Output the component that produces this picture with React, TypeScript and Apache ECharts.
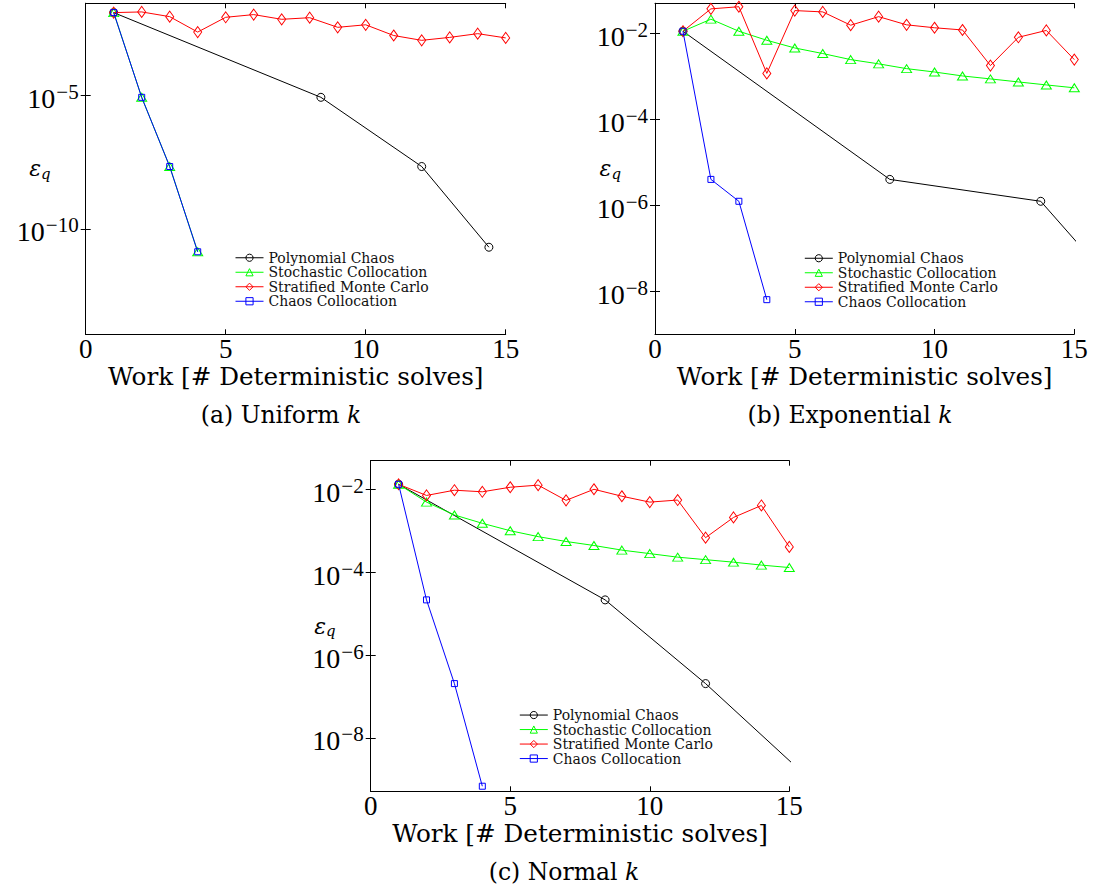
import React, { useEffect, useRef } from "react";
import * as echarts from "echarts";

// ---------- data ----------
const SERIES_NAMES = [
  "Polynomial Chaos",
  "Stochastic Collocation",
  "Stratified Monte Carlo",
  "Chaos Collocation",
];
const WORK_1_15 = [1, 2, 3, 4, 5, 6, 7, 8, 9, 10, 11, 12, 13, 14, 15];
const WORK_1_4 = [1, 2, 3, 4];
const X_TICKS = [0, 5, 10, 15];
const Y_TICKS_A = [-5, -10];
const Y_TICKS_BC = [-2, -4, -6, -8];

// (a) Uniform k
const uniformPCWork = [1, 8.4, 12, 14.4];
const uniformPCErr = [1.32e-2, 8.7e-6, 2.19e-8, 2.04e-11];
const uniformSCErr = [1.32e-2, 8.7e-6, 2.19e-8, 1.38e-11];
const uniformSMCErr = [
  1.32e-2, 1.4e-2, 9.3e-3, 2.45e-3, 8.8e-3, 1.11e-2, 7.4e-3, 8.5e-3, 3.7e-3,
  4.6e-3, 1.82e-3, 1.2e-3, 1.55e-3, 2.14e-3, 1.48e-3,
];
const uniformCCErr = [1.32e-2, 8.7e-6, 2.19e-8, 1.38e-11];

// (b) Exponential k
const expPCWork = [1, 8.4, 13.8, 16.9];
const expPCErr = [1.12e-2, 3.98e-6, 1.23e-6, 6.3e-9];
const expSCErr = [
  1.12e-2, 2.14e-2, 1.12e-2, 6.9e-3, 4.57e-3, 3.39e-3, 2.45e-3, 1.95e-3,
  1.51e-3, 1.26e-3, 1.02e-3, 8.7e-4, 7.4e-4, 6.3e-4, 5.4e-4,
];
const expSMCErr = [
  1.12e-2, 3.72e-2, 4.17e-2, 1.17e-3, 3.39e-2, 3.16e-2, 1.55e-2, 2.45e-2,
  1.58e-2, 1.35e-2, 1.2e-2, 1.78e-3, 8.1e-3, 1.17e-2, 2.45e-3,
];
const expCCErr = [1.12e-2, 3.98e-6, 1.23e-6, 6.3e-9];

// (c) Normal k
const normPCWork = [1, 8.4, 12, 16];
const normPCErr = [1.32e-2, 2.14e-5, 2.04e-7, 6.8e-10];
const normSCErr = [
  1.32e-2, 4.9e-3, 2.4e-3, 1.51e-3, 1.0e-3, 7.2e-4, 5.5e-4, 4.4e-4, 3.4e-4,
  2.8e-4, 2.3e-4, 2.0e-4, 1.74e-4, 1.48e-4, 1.29e-4,
];
const normSMCErr = [
  1.32e-2, 7.1e-3, 9.5e-3, 8.7e-3, 1.12e-2, 1.26e-2, 5.4e-3, 1.0e-2, 6.8e-3,
  4.9e-3, 5.5e-3, 6.8e-4, 2.09e-3, 4.07e-3, 4.07e-4,
];
const normCCErr = [1.32e-2, 2.14e-5, 2.04e-7, 6.8e-10];

// ---------- styling / layout ----------
const TEXT_FONT = "'DejaVu Serif', serif";
const NUM_FONT = "'Liberation Serif', serif";

const SERIES_STYLE = [
  { color: "#000000", symbol: "circle", symbolSize: 8 },
  { color: "#00ff00", symbol: "triangle", symbolSize: [10, 8] },
  { color: "#ff0000", symbol: "diamond", symbolSize: [8, 11] },
  { color: "#0000ff", symbol: "rect", symbolSize: 6 },
];

const PANELS = [
  {
    grid: { left: 85.7, top: 3.3, width: 420, height: 331 },
    yRange: [-13.96, -1.53],
    yTicks: Y_TICKS_A,
    nameGap: 35,
    series: [
      [uniformPCWork, uniformPCErr],
      [WORK_1_4, uniformSCErr],
      [WORK_1_15, uniformSMCErr],
      [WORK_1_4, uniformCCErr],
    ],
    legend: { left: 235, top: 250.5 },
    caption: { x: 281, y: 415, text: "(a) Uniform {i|k}" },
  },
  {
    grid: { left: 655, top: 3.3, width: 419.3, height: 330.7 },
    yRange: [-9.0, -1.3],
    yTicks: Y_TICKS_BC,
    nameGap: 34,
    series: [
      [expPCWork, expPCErr],
      [WORK_1_15, expSCErr],
      [WORK_1_15, expSMCErr],
      [WORK_1_4, expCCErr],
    ],
    legend: { left: 804.3, top: 251 },
    caption: { x: 850, y: 415, text: "(b) Exponential {i|k}" },
  },
  {
    grid: { left: 370.7, top: 460.7, width: 418.6, height: 330.6 },
    yRange: [-9.29, -1.31],
    yTicks: Y_TICKS_BC,
    nameGap: 35,
    series: [
      [normPCWork, normPCErr],
      [WORK_1_15, normSCErr],
      [WORK_1_15, normSMCErr],
      [WORK_1_4, normCCErr],
    ],
    legend: { left: 519.3, top: 707.8 },
    caption: { x: 564, y: 872, text: "(c) Normal {i|k}" },
  },
];

function buildOption() {
  const grid: any[] = [];
  const xAxis: any[] = [];
  const yAxis: any[] = [];
  const series: any[] = [];
  const legend: any[] = [];
  const graphic: any[] = [];

  PANELS.forEach((p, i) => {
    grid.push({ ...p.grid, containLabel: false, outerBoundsMode: "none" });
    const axisLine = { show: true, lineStyle: { color: "#000", width: 1 } };
    // bottom x
    xAxis.push({
      gridIndex: i,
      type: "value",
      position: "bottom",
      min: X_TICKS[0],
      max: X_TICKS[X_TICKS.length - 1],
      interval: 5,
      axisLine,
      axisTick: { show: true, inside: true, length: 5, lineStyle: { color: "#000" } },
      splitLine: { show: false },
      axisLabel: {
        show: true,
        margin: 5,
        color: "#000",
        fontFamily: NUM_FONT,
        fontSize: 27,
        lineHeight: 20,
        showMinLabel: true,
        showMaxLabel: true,
      },
      name: "Work [# Deterministic solves]",
      nameLocation: "middle",
      nameGap: 30,
      nameMoveOverlap: false,
      nameTextStyle: {
        color: "#000",
        fontFamily: TEXT_FONT,
        fontSize: 24.7,
        lineHeight: 24,
      },
    });
    // top x
    xAxis.push({
      gridIndex: i,
      type: "value",
      position: "top",
      min: X_TICKS[0],
      max: X_TICKS[X_TICKS.length - 1],
      interval: 5,
      axisLine,
      axisTick: { show: true, inside: true, length: 5, lineStyle: { color: "#000" } },
      splitLine: { show: false },
      axisLabel: { show: false },
    });
    const rich = {
      b: { fontFamily: NUM_FONT, fontSize: 28, color: "#000", padding: [6, 0, 0, 0] },
      s: { fontFamily: NUM_FONT, fontSize: 21, color: "#000", padding: [0, 0, 7, 1] },
    };
    yAxis.push({
      gridIndex: i,
      type: "value",
      position: "left",
      min: p.yRange[0],
      max: p.yRange[1],
      axisLine,
      axisTick: {
        show: true,
        inside: true,
        length: 5,
        customValues: p.yTicks,
        lineStyle: { color: "#000" },
      },
      splitLine: { show: false },
      axisLabel: {
        show: true,
        margin: 7,
        customValues: p.yTicks,
        formatter: (v: number) => `{b|10}{s|\u2212${Math.round(-v)}}`,
        rich,
      },
      name: "{e|\u03b5}{q|q}",
      nameLocation: "middle",
      nameRotate: 0,
      nameGap: p.nameGap,
      nameMoveOverlap: false,
      nameTextStyle: {
        rich: {
          e: { fontFamily: TEXT_FONT, fontStyle: "italic", fontSize: 22, color: "#000" },
          q: {
            fontFamily: TEXT_FONT,
            fontStyle: "italic",
            fontSize: 15,
            color: "#000",
            padding: [10, 0, 0, 0],
          },
        },
      },
    });
    yAxis.push({
      gridIndex: i,
      type: "value",
      position: "right",
      min: p.yRange[0],
      max: p.yRange[1],
      axisLine,
      axisTick: {
        show: true,
        inside: true,
        length: 5,
        customValues: p.yTicks,
        lineStyle: { color: "#000" },
      },
      splitLine: { show: false },
      axisLabel: { show: false },
    });

    p.series.forEach(([xs, ys], k) => {
      const st = SERIES_STYLE[k];
      series.push({
        type: "line",
        name: SERIES_NAMES[k],
        xAxisIndex: i * 2,
        yAxisIndex: i * 2,
        data: (xs as number[]).map((x, j) => [x, Math.log10((ys as number[])[j])]),
        symbol: st.symbol,
        symbolSize: st.symbolSize,
        showAllSymbol: true,
        clip: true,
        color: st.color,
        lineStyle: { color: st.color, width: 1 },
        itemStyle: { color: "rgba(0,0,0,0)", borderColor: st.color, borderWidth: 1 },
        emphasis: { disabled: true },
        z: 2 + k,
      });
    });

    legend.push({
      data: SERIES_NAMES,
      orient: "vertical",
      left: p.legend.left,
      top: p.legend.top,
      padding: 0,
      itemGap: 0,
      itemWidth: 28,
      itemHeight: 9,
      itemStyle: { color: "rgba(0,0,0,0)", borderWidth: 1 },
      lineStyle: { width: 1 },
      textStyle: { color: "#111", fontFamily: TEXT_FONT, fontSize: 14, lineHeight: 14.5 },
      selectedMode: false,
    });

    graphic.push({
      type: "text",
      x: p.caption.x,
      y: p.caption.y,
      style: {
        text: p.caption.text,
        fontFamily: TEXT_FONT,
        fontSize: 23.5,
        fill: "#000",
        align: "center",
        verticalAlign: "middle",
        rich: {
          i: { fontFamily: TEXT_FONT, fontStyle: "italic", fontSize: 23.5, fill: "#000" },
        },
      },
    });
  });

  return {
    animation: false,
    backgroundColor: "#ffffff",
    grid,
    xAxis,
    yAxis,
    series,
    legend,
    graphic,
  };
}

export default function App() {
  const ref = useRef<HTMLDivElement>(null);
  useEffect(() => {
    if (!ref.current) return;
    const chart = echarts.init(ref.current, undefined, { renderer: "svg" });
    chart.setOption(buildOption() as any);
    return () => chart.dispose();
  }, []);
  return (
    <div
      ref={ref}
      style={{ position: "absolute", left: 0, top: 0, width: 1095, height: 890 }}
    />
  );
}
